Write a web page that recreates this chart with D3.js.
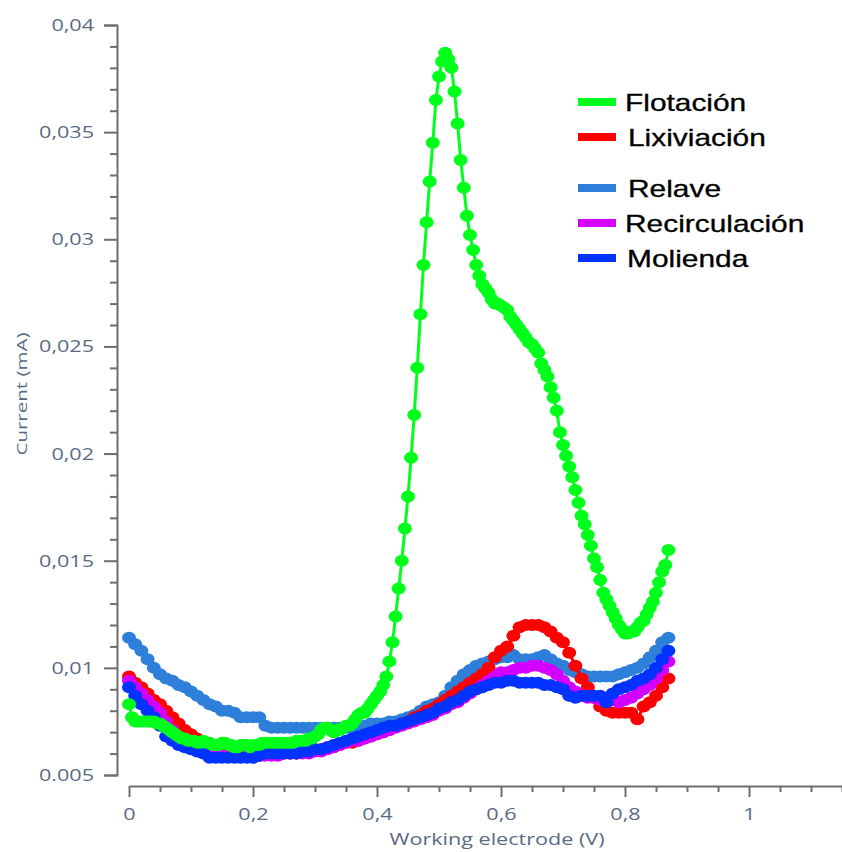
<!DOCTYPE html>
<html><head><meta charset="utf-8">
<script src="https://cdn.jsdelivr.net/npm/d3@7"></script>
<style>body{margin:0;background:#fff;}svg{display:block;}</style>
</head><body>
<svg id="chart" width="842" height="852"></svg>
<script>
// ---------- data ----------
const seriesNames = ["Flotación", "Lixiviación", "Relave", "Recirculación", "Molienda"];
const seriesColors = ["#00ff1a", "#ff0000", "#2e7fd9", "#d400ff", "#0033ff"];

// potential step of each record (V)
const flotacionStep = 0.005;
const otherStep = 0.01;

// Flotación current (mA), one value every 0.005 V from 0 V
const flotacion = [
  0.0083,0.0077,0.0075,0.0075,0.0075,0.0075,0.0075,0.0075,0.0075,0.0074,
  0.0074,0.0073,0.0072,0.0071,0.0070,0.0069,0.0068,0.0067,0.0067,0.0066,
  0.0066,0.0066,0.0065,0.0065,0.0066,0.0065,0.0065,0.0064,0.0064,0.0064,
  0.0065,0.0065,0.0064,0.0064,0.0063,0.0063,0.0064,0.0064,0.0064,0.0063,
  0.0064,0.0064,0.0064,0.0065,0.0065,0.0065,0.0065,0.0065,0.0065,0.0065,
  0.0065,0.0065,0.0065,0.0065,0.0066,0.0066,0.0066,0.0066,0.0067,0.0067,
  0.0068,0.0069,0.0071,0.0072,0.0072,0.0071,0.0070,0.0071,0.0071,0.0072,
  0.0073,0.0073,0.0074,0.0076,0.0078,0.0079,0.0079,0.0081,0.0083,0.0085,
  0.0087,0.0089,0.0092,0.0096,0.0103,0.0112,0.0124,0.0137,0.0150,0.0165,
  0.0180,0.0198,0.0218,0.0240,0.0265,0.0288,0.0308,0.0327,0.0345,0.0365,
  0.0376,0.0383,0.0387,0.0384,0.0380,0.0369,0.0354,0.0337,0.0324,0.0311,
  0.0302,0.0295,0.0288,0.0283,0.0279,0.0277,0.0275,0.0272,0.0270,0.0270,
  0.0269,0.0268,0.0267,0.0264,0.0262,0.0260,0.0258,0.0256,0.0254,0.0252,
  0.0251,0.0249,0.0247,0.0242,0.0239,0.0236,0.0231,0.0226,0.0220,0.0210,
  0.0204,0.0199,0.0194,0.0189,0.0183,0.0177,0.0171,0.0167,0.0162,0.0157,
  0.0151,0.0147,0.0141,0.0135,0.0132,0.0129,0.0126,0.0123,0.0120,0.0118,
  0.0116,0.0116,0.0117,0.0117,0.0119,0.0121,0.0122,0.0125,0.0128,0.0131,
  0.0135,0.0140,0.0145,0.0148,0.0155
];

// other records, one value every 0.01 V from 0 V
const lixiviacion = [
  0.0096,0.0093,0.0091,0.0088,0.0085,0.0083,0.0080,0.0077,0.0074,0.0071,
  0.0069,0.0067,0.0065,0.0064,0.0062,0.0061,0.0060,0.0060,0.0060,0.0060,
  0.0060,0.0060,0.0061,0.0060,0.0060,0.0060,0.0060,0.0060,0.0061,0.0061,
  0.0062,0.0062,0.0063,0.0063,0.0064,0.0065,0.0065,0.0066,0.0067,0.0068,
  0.0069,0.0070,0.0071,0.0073,0.0074,0.0075,0.0077,0.0078,0.0080,0.0081,
  0.0083,0.0085,0.0087,0.0089,0.0091,0.0093,0.0095,0.0097,0.0100,0.0105,
  0.0108,0.0110,0.0115,0.0119,0.0120,0.0120,0.0120,0.0119,0.0117,0.0114,
  0.0112,0.0107,0.0101,0.0095,0.0091,0.0086,0.0082,0.0080,0.0079,0.0079,
  0.0079,0.0079,0.0076,0.0082,0.0084,0.0087,0.0091,0.0095
];
const relave = [
  0.0114,0.0111,0.0108,0.0104,0.0100,0.0097,0.0095,0.0094,0.0092,0.0091,
  0.0089,0.0087,0.0085,0.0083,0.0082,0.0080,0.0080,0.0079,0.0077,0.0077,
  0.0077,0.0077,0.0073,0.0072,0.0072,0.0072,0.0072,0.0072,0.0072,0.0072,
  0.0072,0.0072,0.0072,0.0072,0.0072,0.0072,0.0072,0.0073,0.0073,0.0074,
  0.0074,0.0074,0.0075,0.0075,0.0076,0.0077,0.0078,0.0080,0.0082,0.0083,
  0.0084,0.0087,0.0091,0.0094,0.0097,0.0099,0.0101,0.0102,0.0103,0.0104,
  0.0105,0.0105,0.0106,0.0104,0.0104,0.0104,0.0105,0.0106,0.0104,0.0102,
  0.0101,0.0099,0.0098,0.0097,0.0096,0.0096,0.0096,0.0096,0.0096,0.0097,
  0.0098,0.0099,0.0100,0.0102,0.0105,0.0108,0.0112,0.0114
];
const recirculacion = [
  0.0094,0.0091,0.0088,0.0085,0.0082,0.0079,0.0075,0.0071,0.0068,0.0066,
  0.0064,0.0062,0.0061,0.0060,0.0060,0.0059,0.0059,0.0059,0.0059,0.0059,
  0.0059,0.0059,0.0059,0.0059,0.0059,0.0060,0.0060,0.0060,0.0060,0.0060,
  0.0061,0.0061,0.0062,0.0063,0.0064,0.0065,0.0066,0.0066,0.0067,0.0068,
  0.0069,0.0070,0.0071,0.0072,0.0073,0.0074,0.0075,0.0076,0.0077,0.0078,
  0.0080,0.0081,0.0083,0.0084,0.0086,0.0088,0.0090,0.0092,0.0094,0.0096,
  0.0098,0.0098,0.0099,0.0100,0.0100,0.0101,0.0101,0.0100,0.0099,0.0097,
  0.0094,0.0091,0.0089,0.0087,0.0086,0.0086,0.0085,0.0085,0.0085,0.0084,
  0.0085,0.0086,0.0088,0.0090,0.0092,0.0095,0.0099,0.0103
];
const molienda = [
  0.0091,0.0087,0.0083,0.0080,0.0077,0.0073,0.0068,0.0066,0.0064,0.0063,
  0.0062,0.0061,0.0060,0.0058,0.0058,0.0058,0.0058,0.0058,0.0058,0.0058,
  0.0058,0.0059,0.0060,0.0060,0.0060,0.0060,0.0060,0.0060,0.0061,0.0061,
  0.0062,0.0062,0.0063,0.0064,0.0065,0.0066,0.0067,0.0068,0.0069,0.0070,
  0.0071,0.0072,0.0073,0.0073,0.0074,0.0075,0.0076,0.0077,0.0078,0.0079,
  0.0081,0.0082,0.0084,0.0085,0.0087,0.0089,0.0090,0.0091,0.0092,0.0093,
  0.0093,0.0094,0.0094,0.0093,0.0093,0.0093,0.0093,0.0092,0.0092,0.0091,
  0.0090,0.0087,0.0086,0.0087,0.0087,0.0087,0.0087,0.0084,0.0088,0.0090,
  0.0091,0.0092,0.0094,0.0095,0.0097,0.0100,0.0104,0.0108
];

// axis ticks
const xTicks = [0, 0.2, 0.4, 0.6, 0.8, 1];
const xTickLabels = ["0", "0,2", "0,4", "0,6", "0,8", "1"];
const yTicks = [0.005, 0.01, 0.015, 0.02, 0.025, 0.03, 0.035, 0.04];
const yTickLabels = ["0.005", "0,01", "0,015", "0,02", "0,025", "0,03", "0,035", "0,04"];
const xTitle = "Working electrode (V)";
const yTitle = "Current (mA)";

// ---------- drawing ----------
const svg = d3.select("#chart");
const SX = 1.27;               // horizontal stretch of the original picture
const labelColor = "#5a6b84";
const axisColor = "#6e6e6e";

const x = d3.scaleLinear().domain([0, 1.15]).range([129, 842]);
const y = d3.scaleLinear().domain([0.005, 0.04]).range([775, 25]);

// Y axis
const yAxisG = svg.append("g").attr("transform", "translate(117,0)");
yAxisG.call(d3.axisLeft(y).tickValues(yTicks).tickFormat((d, i) => yTickLabels[i]).tickSize(13).tickSizeOuter(13));
const yMinor = d3.range(0.005, 0.04001, 0.001).filter(v => !yTicks.some(t => Math.abs(t - v) < 1e-9));
const yMinorG = svg.append("g").attr("transform", "translate(117,0)");
yMinorG.call(d3.axisLeft(y).tickValues(yMinor).tickFormat("").tickSize(7));
yMinorG.select(".domain").remove();

// X axis
const xAxisG = svg.append("g").attr("transform", "translate(0,786)");
xAxisG.call(d3.axisBottom(x).tickValues(xTicks).tickFormat((d, i) => xTickLabels[i]).tickSize(11).tickSizeOuter(0));
const xMinor = d3.range(0, 1.1501, 0.05).filter(v => !xTicks.some(t => Math.abs(t - v) < 1e-9));
const xMinorG = svg.append("g").attr("transform", "translate(0,786)");
xMinorG.call(d3.axisBottom(x).tickValues(xMinor).tickFormat("").tickSize(6));
xMinorG.select(".domain").remove();

svg.selectAll(".domain").attr("stroke", axisColor).attr("stroke-width", 2);
svg.selectAll(".tick line").attr("stroke", axisColor).attr("stroke-width", 2);
svg.selectAll(".tick text")
  .attr("fill", labelColor)
  .style("font-family", "'Open Sans', sans-serif")
  .style("font-size", "17px");
yAxisG.selectAll(".tick text").attr("x", -23 / SX).attr("transform", `scale(${SX},1)`);
xAxisG.selectAll(".tick text").attr("y", 22).attr("transform", `scale(${SX},1)`);

// axis titles
svg.append("text")
  .attr("x", 497).attr("y", 845)
  .attr("text-anchor", "middle")
  .attr("textLength", 215).attr("lengthAdjust", "spacingAndGlyphs")
  .attr("fill", labelColor)
  .style("font-family", "'Open Sans', sans-serif").style("font-size", "17px")
  .text(xTitle);
svg.append("text")
  .attr("transform", "translate(27,394) rotate(-90)")
  .attr("text-anchor", "middle")
  .attr("textLength", 123).attr("lengthAdjust", "spacingAndGlyphs")
  .attr("fill", labelColor)
  .style("font-family", "'Open Sans', sans-serif").style("font-size", "15px")
  .text(yTitle);

// series
const seriesData = {
  "Flotación": flotacion.map((v, i) => [i * flotacionStep, v]),
  "Lixiviación": lixiviacion.map((v, i) => [i * otherStep, v]),
  "Relave": relave.map((v, i) => [i * otherStep, v]),
  "Recirculación": recirculacion.map((v, i) => [i * otherStep, v]),
  "Molienda": molienda.map((v, i) => [i * otherStep, v])
};
const color = d3.scaleOrdinal().domain(seriesNames).range(seriesColors);
const drawOrder = ["Relave", "Lixiviación", "Recirculación", "Molienda", "Flotación"];
const line = d3.line().x(d => x(d[0])).y(d => y(d[1]));

drawOrder.forEach(name => {
  const g = svg.append("g");
  const pts = seriesData[name];
  g.append("path").datum(pts)
    .attr("d", line).attr("fill", "none")
    .attr("stroke", color(name)).attr("stroke-width", 3);
  g.selectAll("ellipse").data(pts).join("ellipse")
    .attr("cx", d => x(d[0])).attr("cy", d => y(d[1]))
    .attr("rx", 7).attr("ry", 6)
    .attr("fill", color(name));
});

// legend
const legendY = [102, 137, 188, 223, 258];
const legendTextX = [625, 628, 628, 625, 627];
const legend = svg.append("g");
seriesNames.forEach((name, i) => {
  legend.append("rect")
    .attr("x", 578).attr("y", legendY[i] - 4)
    .attr("width", 38).attr("height", 8)
    .attr("fill", color(name));
  legend.append("text")
    .attr("transform", `translate(${legendTextX[i]},${legendY[i] + 8.5}) scale(1.3,1)`)
    .attr("fill", "#000")
    .attr("stroke", "#000").attr("stroke-width", 0.3)
    .style("font-family", "'Liberation Sans', Arial, sans-serif")
    .style("font-size", "23px")
    .text(name);
});
</script>
</body></html>
